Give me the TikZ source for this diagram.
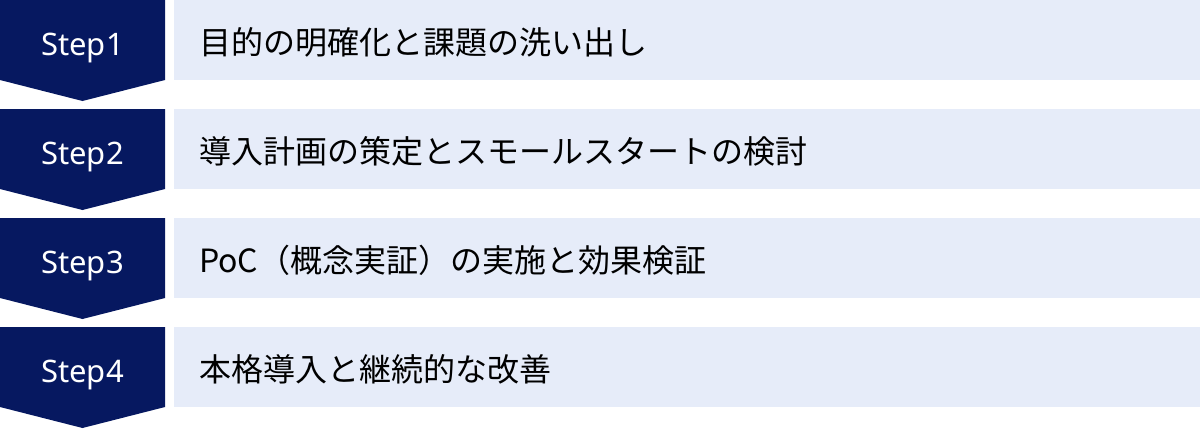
\documentclass[tikz,border=0pt]{standalone}
\usepackage{fontspec}
\newfontfamily\cjkfont{Noto Sans CJK JP}
\newfontfamily\stepfont{Noto Sans}
\definecolor{stepnavy}{HTML}{061860}
\definecolor{taskbg}{HTML}{E6ECF9}
\tikzset{
  stepfill/.style={fill=stepnavy},
  steplabel/.style={text=white, font=\stepfont\fontsize{31}{36}\selectfont, anchor=base},
  taskbox/.style={fill=taskbg, anchor=north west, minimum width=1026pt, minimum height=80pt, inner sep=0pt},
  tasklabel/.style={text=black, font=\cjkfont\fontsize{32}{38}\selectfont, anchor=base west, inner sep=0pt}
}
\begin{document}
\begin{tikzpicture}[x=1pt, y=-1pt]
\useasboundingbox (0,0) rectangle (1200,429);

\foreach \i/\txt in {1/目的の明確化と課題の洗い出し, 2/導入計画の策定とスモールスタートの検討, 3/PoC（概念実証）の実施と効果検証, 4/本格導入と継続的な改善} {
  \pgfmathsetmacro{\y}{(\i-1)*109}
  % chevron and its label
  \fill[stepfill] (0,\y) -- (165,\y) -- (165,\y+80) -- (82.5,\y+101) -- (0,\y+80) -- cycle;
  \node[steplabel] (step\i) at (82.5,\y+55) {Step\i};
  % task bar
  \node[taskbox] (task\i) at (174,\y) {};
  \node[tasklabel] (tasktext\i) at (199,\y+54) {\txt};
}
\end{tikzpicture}
\end{document}
